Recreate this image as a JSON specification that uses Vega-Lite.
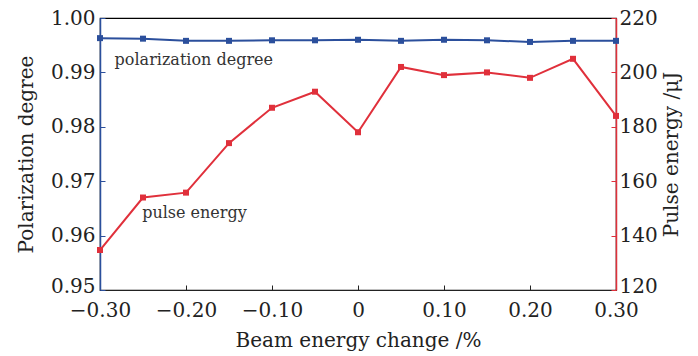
{
  "$schema": "https://vega.github.io/schema/vega-lite/v6.json",
  "width": 516,
  "height": 272,
  "autosize": "none",
  "padding": {"left": 100, "top": 18, "right": 82, "bottom": 66},
  "background": "white",
  "config": {
    "view": {"stroke": "black", "strokeWidth": 1.2},
    "font": "DejaVu Serif",
    "text": {"font": "DejaVu Serif"},
    "axis": {"labelFont": "DejaVu Serif", "titleFont": "DejaVu Serif", "labelFontSize": 20, "titleFontSize": 20, "labelColor": "#222", "titleColor": "#222", "titleFontWeight": "normal", "grid": false, "tickSize": -5, "labelPadding": 10, "labelFlush": false, "labelOverlap": false, "labelBound": false}
  },
  "datasets": {
    "pol": [
      {"x": -0.30, "p": 0.9963}, {"x": -0.25, "p": 0.9962}, {"x": -0.20, "p": 0.9958},
      {"x": -0.15, "p": 0.9958}, {"x": -0.10, "p": 0.9959}, {"x": -0.05, "p": 0.9959},
      {"x": 0.00, "p": 0.9960}, {"x": 0.05, "p": 0.9958}, {"x": 0.10, "p": 0.9960},
      {"x": 0.15, "p": 0.9959}, {"x": 0.20, "p": 0.9956}, {"x": 0.25, "p": 0.9958},
      {"x": 0.30, "p": 0.9958}
    ],
    "pe": [
      {"x": -0.30, "e": 134.7}, {"x": -0.25, "e": 154}, {"x": -0.20, "e": 155.8},
      {"x": -0.15, "e": 174}, {"x": -0.10, "e": 187}, {"x": -0.05, "e": 192.9},
      {"x": 0.00, "e": 178}, {"x": 0.05, "e": 202}, {"x": 0.10, "e": 199},
      {"x": 0.15, "e": 200}, {"x": 0.20, "e": 198}, {"x": 0.25, "e": 205},
      {"x": 0.30, "e": 184}
    ],
    "ann": [
      {"x": -0.283, "p": 0.9923, "t": "polarization degree"},
      {"x": -0.251, "p": 0.9641, "t": "pulse energy"}
    ]
  },
  "layer": [
    {
      "layer": [
        {
          "data": {"name": "pol"},
          "mark": {"type": "line", "color": "#2b4f9c", "strokeWidth": 2, "point": {"shape": "square", "size": 36, "filled": true, "color": "#2b4f9c"}},
          "encoding": {
            "x": {"field": "x", "type": "quantitative", "scale": {"domain": [-0.3, 0.3], "nice": false},
              "axis": {"values": [-0.3, -0.2, -0.1, 0, 0.1, 0.2, 0.3], "title": "Beam energy change /%", "domainColor": "#222", "tickColor": "#222", "labelExpr": "datum.value == 0 ? '0' : replace(format(datum.value, '.2f'), '-', '\u2212')", "titlePadding": 10, "labelPadding": 15}},
            "y": {"field": "p", "type": "quantitative", "scale": {"domain": [0.95, 1.0], "nice": false, "zero": false},
              "axis": {"orient": "left", "values": [0.95, 0.96, 0.97, 0.98, 0.99, 1.0], "format": ".2f", "title": "Polarization degree", "labelOffset": {"condition": {"test": "datum.value < 0.955", "value": -4}, "value": 0}, "domainColor": "#2b4f9c", "tickColor": "#2b4f9c", "domainWidth": 1.5, "titlePadding": 14}}
          }
        },
        {
          "data": {"name": "ann"},
          "mark": {"type": "text", "align": "left", "baseline": "middle", "font": "DejaVu Serif", "fontSize": 16, "color": "#333"},
          "encoding": {
            "x": {"field": "x", "type": "quantitative"},
            "y": {"field": "p", "type": "quantitative"},
            "text": {"field": "t"}
          }
        }
      ]
    },
    {
      "data": {"name": "pe"},
      "mark": {"type": "line", "color": "#e0303b", "strokeWidth": 2, "point": {"shape": "square", "size": 36, "filled": true, "color": "#e0303b"}},
      "encoding": {
        "x": {"field": "x", "type": "quantitative"},
        "y": {"field": "e", "type": "quantitative", "scale": {"domain": [120, 220], "nice": false, "zero": false},
          "axis": {"orient": "right", "values": [120, 140, 160, 180, 200, 220], "title": "Pulse energy /\u03bcJ", "titleAngle": 270, "labelPadding": 8, "labelOffset": {"condition": {"test": "datum.value < 125", "value": -4}, "value": 0}, "domainColor": "#e0303b", "tickColor": "#e0303b", "domainWidth": 1.5, "titlePadding": 24}}
      }
    }
  ],
  "resolve": {"scale": {"y": "independent"}}
}
